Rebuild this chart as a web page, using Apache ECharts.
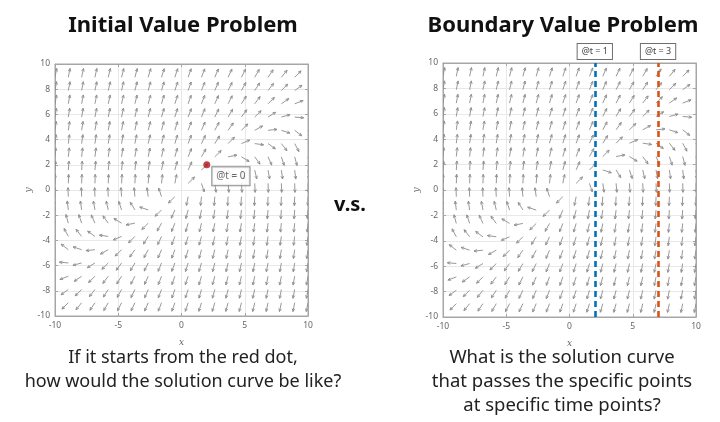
<!DOCTYPE html>
<html><head><meta charset="utf-8">
<script src="https://cdn.jsdelivr.net/npm/echarts@6/dist/echarts.min.js"></script>
<style>html,body{margin:0;padding:0;background:#fff;}#c{width:720px;height:422px;}</style>
</head><body><div id="c"></div>
<script>
// quiver grid (data units)
const fieldX = [-10,-8.947,-7.895,-6.842,-5.789,-4.737,-3.684,-2.632,-1.579,-0.526,0.526,1.579,2.632,3.684,4.737,5.789,6.842,7.895,8.947,10];
const fieldY = [10,8.947,7.895,6.842,5.789,4.737,3.684,2.632,1.579,0.526,-0.526,-1.579,-2.632,-3.684,-4.737,-5.789,-6.842,-7.895,-8.947,-10];
// arrow direction (degrees, counter-clockwise from +x), one row per fieldY value
const fieldAngles = [
[79,78,78,77,76,76,75,74,73,72,71,70,68,66,64,62,59,55,50,45],
[79,79,78,78,77,76,75,74,73,72,71,69,67,65,63,60,56,51,45,37],
[80,79,79,78,77,77,76,75,74,72,71,69,67,64,61,57,52,45,36,25],
[80,80,79,79,78,77,76,75,74,72,71,69,66,63,58,53,45,35,21,4],
[81,81,80,79,79,78,77,76,74,73,70,68,64,60,54,45,32,15,-5,-24],
[82,82,81,80,80,79,78,76,75,73,70,67,62,55,45,29,6,-18,-38,-51],
[83,83,82,82,81,80,79,77,75,73,70,65,58,45,23,-8,-36,-52,-62,-68],
[85,84,84,83,82,81,80,79,77,74,69,61,45,11,-31,-54,-66,-72,-75,-78],
[86,86,86,85,84,84,83,81,79,75,67,45,-18,-59,-72,-77,-80,-82,-83,-84],
[89,88,88,88,88,87,87,86,84,79,45,-72,-82,-85,-86,-87,-88,-88,-88,-88],
[92,92,92,92,93,94,95,98,108,225,259,264,266,267,267,268,268,268,268,269],
[96,97,98,100,103,108,121,162,225,247,255,259,261,263,264,264,265,266,266,266],
[102,105,108,114,126,149,191,225,241,249,254,257,259,260,261,262,263,264,264,265],
[112,118,128,144,172,203,225,238,245,250,253,255,257,259,260,261,262,262,263,263],
[129,142,162,186,209,225,235,242,247,250,253,255,256,258,259,260,260,261,262,262],
[156,175,195,212,225,234,240,244,248,250,253,254,256,257,258,259,259,260,261,261],
[184,201,215,225,233,238,243,246,249,251,252,254,255,256,257,258,259,259,260,260],
[205,216,225,232,237,241,244,247,249,251,252,254,255,256,257,257,258,259,259,260],
[217,225,231,236,240,243,245,247,249,251,252,253,254,255,256,257,258,258,259,259],
[225,230,235,239,242,244,246,248,250,251,252,253,254,255,256,256,257,258,258,259]
];
const ivpPoint = [2, 2];
const ivpLabel = '@t = 0';
const bvpX = [2, 7];
const bvpLabels = ['@t = 1', '@t = 3'];
const bvpColors = ['#0072BD', '#D95319'];
const axisRange = [-10, 10];
const titles = ['Initial Value Problem', 'Boundary Value Problem'];
const leftCaption = ['If it starts from the red dot,', 'how would the solution curve be like?'];
const rightCaption = ['What is the solution curve', 'that passes the specific points', 'at specific time points?'];
const middleText = 'v.s.';

const quiverData = [];
fieldY.forEach((y, r) => fieldX.forEach((x, c) => quiverData.push([x, y, fieldAngles[r][c]])));

const FONT = '"Noto Sans", "Noto Sans CJK KR", sans-serif';
const ARROW = '#8c8c8c';

function renderArrow(params, api) {
  const a = api.value(2) * Math.PI / 180;
  const p = api.coord([api.value(0), api.value(1)]);
  const L = 9;
  const ex = p[0] + L * Math.cos(a), ey = p[1] - L * Math.sin(a);
  const b = Math.atan2(p[1] - ey, p[0] - ex);
  const h = 3.2, ha = 0.42;
  return {
    type: 'group',
    children: [
      { type: 'line', shape: { x1: p[0], y1: p[1], x2: ex, y2: ey }, style: { stroke: ARROW, lineWidth: 0.9 } },
      { type: 'polyline', shape: { points: [[ex + h * Math.cos(b + ha), ey + h * Math.sin(b + ha)], [ex, ey], [ex + h * Math.cos(b - ha), ey + h * Math.sin(b - ha)]] },
        style: { stroke: ARROW, fill: null, lineWidth: 0.9 } }
    ]
  };
}

const grids = [
  { left: 55, top: 64, width: 253, height: 252 },
  { left: 443, top: 63, width: 253, height: 254 }
];

function mkX(i, pos) {
  return {
    gridIndex: i, type: 'value', min: axisRange[0], max: axisRange[1], interval: 5, position: pos,
    name: pos === 'bottom' ? 'x' : '', nameLocation: 'middle', nameGap: 22,
    nameTextStyle: { fontStyle: 'italic', fontSize: 9, color: '#666', fontFamily: 'DejaVu Serif' },
    axisLine: { show: true, onZero: false, lineStyle: { color: '#a6a6a6', width: 1 } },
    axisTick: { show: true, inside: true, length: 3, lineStyle: { color: '#a6a6a6' } },
    axisLabel: { show: pos === 'bottom', fontSize: 8.5, color: '#666', margin: 5, fontFamily: FONT },
    splitLine: { show: pos === 'bottom', lineStyle: { color: '#e8e8e8', width: 1 } }
  };
}
function mkY(i, pos) {
  return {
    gridIndex: i, type: 'value', min: axisRange[0], max: axisRange[1], interval: 2, position: pos,
    name: pos === 'left' ? 'y' : '', nameLocation: 'middle', nameGap: 19, nameRotate: 90,
    nameTextStyle: { fontStyle: 'italic', fontSize: 9, color: '#666', fontFamily: 'DejaVu Serif' },
    axisLine: { show: true, onZero: false, lineStyle: { color: '#a6a6a6', width: 1 } },
    axisTick: { show: true, inside: true, length: 3, lineStyle: { color: '#a6a6a6' } },
    axisLabel: { show: pos === 'left', fontSize: 8.5, color: '#666', margin: 5, fontFamily: FONT },
    splitLine: { show: pos === 'left', lineStyle: { color: '#e8e8e8', width: 1 } }
  };
}

const series = [0, 1].map(i => ({
  type: 'custom', xAxisIndex: i * 2, yAxisIndex: i * 2, clip: true,
  renderItem: renderArrow, data: quiverData, z: 3, silent: true
}));

series.push({
  type: 'scatter', xAxisIndex: 0, yAxisIndex: 0, data: [ivpPoint], symbolSize: 7, z: 5,
  itemStyle: { color: '#b4141e' },
  label: {
    show: true, formatter: ivpLabel, position: [9, 6], fontSize: 10, color: '#444', fontFamily: FONT,
    backgroundColor: '#fff', borderColor: '#6e6e6e', borderWidth: 1, padding: [4, 4, 4, 4]
  }
});

bvpX.forEach((bx, k) => {
  series.push({
    type: 'line', xAxisIndex: 2, yAxisIndex: 2, data: [], z: 4,
    markLine: {
      silent: true, symbol: ['none', 'none'],
      lineStyle: { color: bvpColors[k], type: [6, 4], width: 2.6 },
      label: {
        show: true, position: 'end', formatter: bvpLabels[k], fontSize: 9, color: '#444', fontFamily: FONT,
        backgroundColor: '#fff', borderColor: '#6e6e6e', borderWidth: 1, padding: [3, 4, 3, 4], distance: 4
      },
      data: [[{ coord: [bx, axisRange[0]] }, { coord: [bx, axisRange[1]] }]]
    }
  });
});

const graphic = [];
const titleX = [183, 563];
titles.forEach((t, i) => graphic.push({ type: 'text', x: titleX[i], y: 26, style: {
  text: t, fill: '#111', font: 'bold 22px ' + FONT, textAlign: 'center', textVerticalAlign: 'middle' } }));
graphic.push({ type: 'text', x: 350, y: 205, style: { text: middleText, fill: '#111', font: 'bold 20px ' + FONT, textAlign: 'center', textVerticalAlign: 'middle' } });
leftCaption.forEach((t, i) => graphic.push({ type: 'text', x: 183, y: 358 + i * 24, style: { text: t, fill: '#222', font: '18px ' + FONT, textAlign: 'center', textVerticalAlign: 'middle' } }));
rightCaption.forEach((t, i) => graphic.push({ type: 'text', x: 562, y: 358 + i * 24, style: { text: t, fill: '#222', font: '18.5px ' + FONT, textAlign: 'center', textVerticalAlign: 'middle' } }));

const chart = echarts.init(document.getElementById('c'), null, { renderer: 'canvas' });
chart.setOption({
  animation: false,
  backgroundColor: '#fff',
  grid: grids.map(g => Object.assign({ show: true, borderColor: '#a6a6a6', borderWidth: 1, backgroundColor: '#fff' }, g)),
  xAxis: [mkX(0, 'bottom'), mkX(0, 'top'), mkX(1, 'bottom'), mkX(1, 'top')],
  yAxis: [mkY(0, 'left'), mkY(0, 'right'), mkY(1, 'left'), mkY(1, 'right')],
  series: series,
  graphic: graphic
});
</script></body></html>
